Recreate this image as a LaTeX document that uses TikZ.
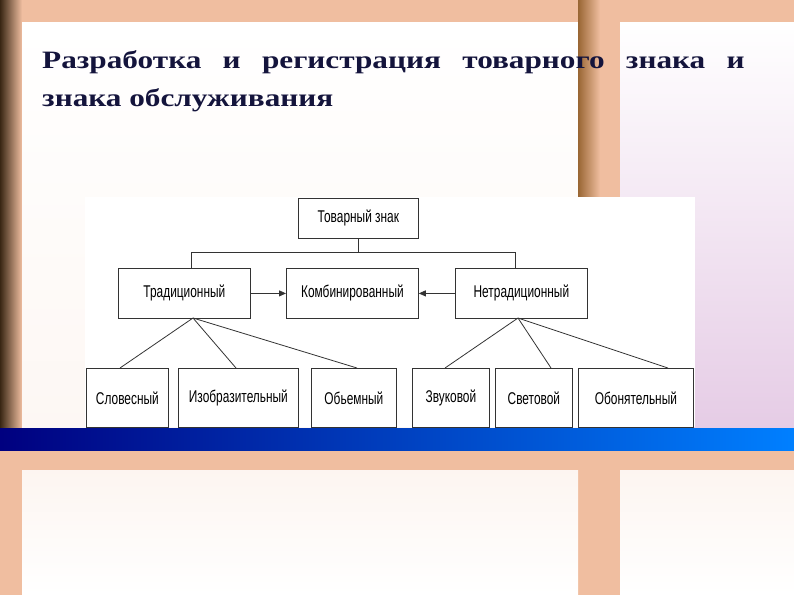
\documentclass[tikz,border=0pt]{standalone}
\usepackage{fontspec}
\setmainfont{Liberation Serif}
\newfontfamily\diag{Liberation Sans}
\usetikzlibrary{arrows.meta}
\definecolor{peach}{RGB}{240,190,160}
\definecolor{navy}{RGB}{20,20,60}
\begin{document}
\begin{tikzpicture}[x=1pt,y=-1pt,
  bx/.style={draw=black!80,line width=0.8pt,fill=white,inner sep=0pt,anchor=north west},
  lbl/.style={font=\diag\fontsize{17}{17}\selectfont},
  ln/.style={draw=black!80,line width=0.8pt},
  ttl/.style={anchor=base west,text=navy,font=\bfseries\fontsize{25}{25}\selectfont,inner sep=0pt}]
\useasboundingbox (0,0) rectangle (794,595);
% background
\fill[peach] (0,0) rectangle (794,595);
\shade[left color=black!70!brown,right color=peach] (0,0) rectangle (22,428);
\shade[top color=white,bottom color=white!88!peach] (22,22) rectangle (578,428);
\shade[left color=brown!80!black,right color=peach] (578,0) rectangle (600,428);
\shade[top color=white,bottom color=white!80!violet] (620,22) rectangle (794,428);
\shade[left color=blue!50!black,right color=cyan!50!blue] (0,428) rectangle (794,450);
\shade[top color=white!85!peach,bottom color=white] (22,470) rectangle (578,595);
\shade[top color=white!85!peach,bottom color=white] (620,470) rectangle (794,595);
\fill[white] (85,197) rectangle (695,427);
% title
\node[ttl] (t1) at (42,68)
  {\scalebox{1.25}[1]{\makebox[562pt][s]{Разработка и регистрация товарного знака и}}};
\node[ttl] (t2) at (42,106)
  {\scalebox{1.25}[1]{знака обслуживания}};
% boxes
\newcommand\bxx[6]{\node[bx,minimum width=#4pt,minimum height=#5pt] (#1) at (#2,#3) {};
  \node[lbl] at (#1.center) {\scalebox{0.7}[1]{#6}};}
\bxx{top}{298}{198}{120}{40}{Товарный знак}
\bxx{trad}{118}{268}{132}{50}{Традиционный}
\bxx{comb}{286}{268}{132}{50}{Комбинированный}
\bxx{ntrad}{455}{268}{132}{50}{Нетрадиционный}
\bxx{b1}{86}{368}{82}{59}{Словесный}
\bxx{b2}{178}{368}{120}{59}{Изобразительный}
\bxx{b3}{311}{368}{85}{59}{Обьемный}
\bxx{b4}{412}{368}{77}{59}{Звуковой}
\bxx{b5}{495}{368}{77}{59}{Световой}
\bxx{b6}{578}{368}{115}{59}{Обонятельный}
% connectors
\draw[ln] (top.south) -- (top.south |- 0,252);
\draw[ln] (trad.north -| 191,0) -- (191,252) -- (515,252) -- (ntrad.north -| 515,0);
\draw[ln,-{Triangle[length=7pt,width=6pt]}] (trad.east) -- (comb.west);
\draw[ln,-{Triangle[length=7pt,width=6pt]}] (ntrad.west) -- (comb.east);
\coordinate (tb) at (193,318);
\coordinate (nb) at (518,318);
\draw[ln] (tb) -- (b1.north -| 120,0);
\draw[ln] (tb) -- (b2.north -| 236,0);
\draw[ln] (tb) -- (b3.north -| 357,0);
\draw[ln] (nb) -- (b4.north -| 445,0);
\draw[ln] (nb) -- (b5.north -| 551,0);
\draw[ln] (nb) -- (b6.north -| 668,0);
\end{tikzpicture}
\end{document}
